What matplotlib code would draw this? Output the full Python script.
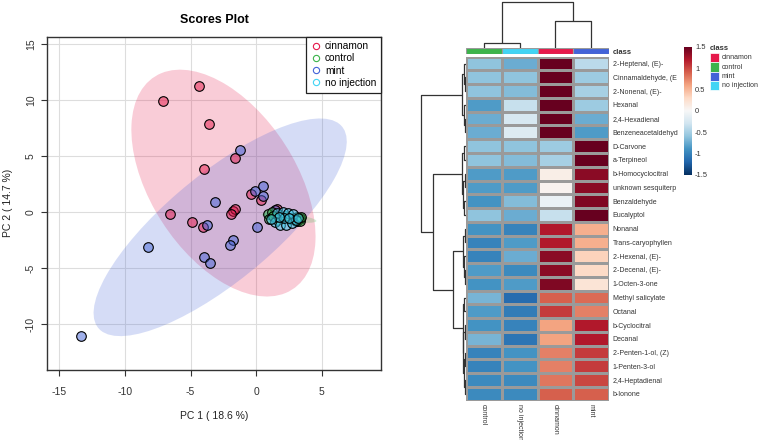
import numpy as np
import matplotlib
matplotlib.use('Agg')
import matplotlib.pyplot as plt
from matplotlib.patches import Ellipse, Rectangle
from matplotlib.lines import Line2D

plt.rcParams['font.family'] = ['Liberation Sans', 'DejaVu Sans']
plt.rcParams['axes.unicode_minus'] = False

# ---------------- scores plot data ----------------
groups = ['cinnamon', 'control', 'mint', 'no injection']
group_colors = ['#E6194B', '#3CB44B', '#4363D8', '#42D4F4']

cinnamon_x = [-4.4, -7.1, -3.6, -1.6, -4.0, -0.4, 0.35, -1.8, -1.65, -1.95, -6.55, -4.9, -4.05, 1.55, 3.1, 3.3]
cinnamon_y = [11.3, 9.95, 7.9, 4.8, 3.85, 1.6, 1.1, 0.1, 0.3, -0.2, -0.15, -0.85, -1.35, 0.25, -0.8, -0.6]

control_x = [0.9, 0.95, 1.2, 1.6, 2.2, 2.6, 2.9, 3.0, 3.1, 3.2, 3.3, 3.35, 3.4, 1.3]
control_y = [-0.2, -0.6, 0.05, -0.7, -0.3, -0.6, -0.5, -0.75, -0.4, -0.65, -0.55, -0.8, -0.45, -0.35]

mint_x = [-1.25, -3.15, -0.1, 0.55, 0.5, -3.75, -1.8, -2.0, -3.95, -3.55, -8.25, -13.35, 0.05, 1.45]
mint_y = [5.55, 0.95, 1.9, 2.35, 1.45, -1.1, -2.5, -2.9, -4.0, -4.55, -3.15, -11.05, -1.3, 0.2]

noinj_x = [1.6, 2.0, 2.4, 2.8, 1.4, 1.8, 2.3, 2.7, 2.1, 1.7, 3.05, 2.5, 3.2, 1.15]
noinj_y = [-0.05, 0.0, -0.1, -0.2, -0.9, -1.15, -1.1, -0.95, -0.55, -0.45, -0.7, -0.5, -0.55, -0.6]

# 95% ellipses: centre, full width/height, angle (degrees)
ell_cx = [-2.5, 2.5, -2.75, 2.2]
ell_cy = [2.6, -0.5, -1.35, -0.45]
ell_w = [21.8, 4.2, 25.9, 3.2]
ell_h = [11.5, 0.7, 8.9, 1.2]
ell_angle = [-64.3, -8, 45.3, -8]

# ---------------- heatmap data ----------------
row_labels = ['2-Heptenal, (E)-', 'Cinnamaldehyde, (E', '2-Nonenal, (E)-', 'Hexanal',
              '2,4-Hexadienal', 'Benzeneacetaldehyd', 'D-Carvone', 'a-Terpineol',
              'b-Homocyclocitral', 'unknown sesquiterp', 'Benzaldehyde', 'Eucalyptol',
              'Nonanal', 'Trans-caryophyllen', '2-Hexenal, (E)-', '2-Decenal, (E)-',
              '1-Octen-3-one', 'Methyl salicylate', 'Octanal', 'b-Cyclocitral', 'Decanal',
              '2-Penten-1-ol, (Z)', '1-Penten-3-ol', '2,4-Heptadienal', 'b-Ionone']
col_labels = ['control', 'no injection', 'cinnamon', 'mint']
col_colors = ['#3CB44B', '#42D4F4', '#E6194B', '#4363D8']

control_vals = [-0.6, -0.6, -0.6, -0.85, -0.75, -0.75, -0.6, -0.6, -0.85, -0.85, -0.9, -0.6,
                -0.9, -1.0, -1.0, -0.85, -0.9, -0.7, -0.85, -0.9, -0.7, -1.0, -1.0, -0.95, -0.95]
noinj_vals = [-0.75, -0.6, -0.65, -0.35, -0.25, -0.2, -0.6, -0.65, -0.85, -0.85, -0.65, -0.75,
              -1.0, -0.85, -0.75, -0.95, -0.85, -1.15, -1.05, -1.0, -1.1, -0.9, -0.9, -0.95, -0.95]
cinnamon_vals = [1.5, 1.5, 1.5, 1.5, 1.5, 1.5, -0.55, -0.5, 0.1, 0.05, -0.1, -0.35,
                 1.2, 1.2, 1.35, 1.35, 1.4, 0.9, 1.05, 0.6, 0.6, 0.75, 0.75, 0.8, 0.9]
mint_vals = [-0.4, -0.55, -0.5, -0.55, -0.75, -0.85, 1.5, 1.5, 1.35, 1.35, 1.4, 1.5,
             0.55, 0.55, 0.35, 0.3, 0.2, 0.85, 0.75, 1.2, 1.2, 1.05, 1.05, 1.0, 0.9]

# dendrogram merges: (left id, right id, height)
row_merges = [(1, 2, 1.0), (0, 25, 1.8), (4, 5, 1.2), (3, 27, 2.2), (26, 28, 4.0),
              (6, 7, 1.5), (8, 9, 0.8), (10, 11, 1.6), (31, 32, 2.4), (30, 33, 4.0),
              (12, 13, 1.2), (15, 16, 1.0), (14, 36, 1.8), (35, 37, 2.6),
              (17, 18, 1.4), (19, 20, 1.2), (21, 22, 0.6), (23, 24, 1.0), (41, 42, 1.8),
              (40, 43, 2.4), (39, 44, 3.2),
              (38, 45, 13.0), (34, 46, 32.4), (29, 47, 45.0)]
col_merges = [(0, 1, 5.0), (2, 3, 26.7), (4, 5, 46.0)]


def dendro_segments(merges, n):
    pos = {i: i + 0.5 for i in range(n)}
    hgt = {i: 0.0 for i in range(n)}
    segs = []
    for k, (a, b, h) in enumerate(merges):
        segs.append(([pos[a], pos[a], pos[b], pos[b]], [hgt[a], h, h, hgt[b]]))
        pos[n + k] = (pos[a] + pos[b]) / 2
        hgt[n + k] = h
    return segs


W, H = 758, 440
fig = plt.figure(figsize=(W / 100, H / 100), dpi=100)


def px_axes(x0, y0, x1, y1):
    return fig.add_axes([x0 / W, 1 - y1 / H, (x1 - x0) / W, (y1 - y0) / H])


# ---------------- scores plot ----------------
ax = px_axes(47, 36.7, 381, 370)
ax.set_xlim(-15.94, 9.5)
ax.set_ylim(-14.1, 15.68)
ax.set_xticks([-15, -10, -5, 0, 5])
ax.set_yticks([-10, -5, 0, 5, 10, 15])
ax.grid(True, color='#dddddd', lw=0.8)
ax.set_axisbelow(True)

for i in [0, 2, 1, 3]:
    ax.add_patch(Ellipse((ell_cx[i], ell_cy[i]), ell_w[i], ell_h[i], angle=ell_angle[i],
                         facecolor=group_colors[i], alpha=0.22, lw=0))

xs = [cinnamon_x, control_x, mint_x, noinj_x]
ys = [cinnamon_y, control_y, mint_y, noinj_y]
for i in [0, 2, 1, 3]:
    fc = matplotlib.colors.to_rgba(group_colors[i], 0.5)
    ax.scatter(xs[i], ys[i], s=48, facecolors=[fc], edgecolors='black', linewidths=0.8, zorder=3)

for s in ax.spines.values():
    s.set_color('#333333')
    s.set_linewidth(1.0)
ax.tick_params(axis='x', length=4, pad=8, labelsize=7.5, colors='#333333')
ax.tick_params(axis='y', length=4, pad=4, labelsize=7.5, colors='#333333')
plt.setp(ax.get_yticklabels(), rotation=90, va='center')
ax.set_xlabel('PC 1 ( 18.6 %)', fontsize=7.5, color='#222222', labelpad=10)
ax.set_ylabel('PC 2 ( 14.7 %)', fontsize=7.5, color='#222222', labelpad=9)
ax.set_title('Scores Plot', fontsize=9, fontweight='bold', pad=10)

handles = [Line2D([], [], marker='o', ls='', markerfacecolor='none', markeredgecolor=c,
                  markersize=4.5, mew=0.8) for c in group_colors]
leg = ax.legend(handles, groups, loc='upper right', borderaxespad=0, fancybox=False,
                edgecolor='#222222', framealpha=1, fontsize=7.3, handletextpad=0.4,
                borderpad=0.45, labelspacing=0.22, handlelength=1.0)
leg.get_frame().set_linewidth(0.9)

# ---------------- heatmap ----------------
vals = np.column_stack([control_vals, noinj_vals, cinnamon_vals, mint_vals])
nrow, ncol = vals.shape
cmap = plt.get_cmap('RdBu_r')

hm = px_axes(465.7, 56.7, 609.3, 400.7)
mesh = hm.pcolormesh(np.arange(ncol + 1), np.arange(nrow + 1), vals, cmap=cmap,
                     vmin=-1.5, vmax=1.5, edgecolors='#9a9a9a', linewidth=0.8)
hm.set_xlim(0, ncol)
hm.set_ylim(nrow, 0)
hm.set_yticks(np.arange(nrow) + 0.5)
hm.set_yticklabels(row_labels, fontsize=5, color='#333333')
hm.yaxis.tick_right()
hm.set_xticks(np.arange(ncol) + 0.5)
hm.set_xticklabels(col_labels, fontsize=5, color='#333333', rotation=-90, va='top')
hm.tick_params(length=0, pad=2.5)
for s in hm.spines.values():
    s.set_visible(False)

# class bar
cb = px_axes(465.7, 47.7, 609.3, 54.3)
for j, c in enumerate(col_colors):
    cb.add_patch(Rectangle((j, 0), 1, 1, facecolor=c, edgecolor='#9a9a9a', lw=0.8))
cb.set_xlim(0, ncol)
cb.set_ylim(0, 1)
cb.set_xticks([])
cb.set_yticks([0.5])
cb.set_yticklabels(['class'], fontsize=5.5, fontweight='bold', color='#333333')
cb.yaxis.tick_right()
cb.tick_params(length=0, pad=2.5)
for s in cb.spines.values():
    s.set_visible(False)

# column dendrogram
cd = px_axes(465.7, 1, 609.3, 47.7)
for sx, sy in dendro_segments(col_merges, ncol):
    cd.plot(sx, sy, color='#333333', lw=0.9, solid_capstyle='butt')
cd.set_xlim(0, ncol)
cd.set_ylim(0, 46.7)
cd.axis('off')

# row dendrogram
rd = px_axes(420, 56.7, 465.7, 400.7)
for sy, sx in dendro_segments(row_merges, nrow):
    rd.plot(sx, sy, color='#333333', lw=0.9, solid_capstyle='butt')
rd.set_xlim(45.7, 0)
rd.set_ylim(nrow, 0)
rd.axis('off')

# colour key
cax = px_axes(684, 46.7, 692.3, 175)
cbar = fig.colorbar(mesh, cax=cax)
cbar.outline.set_visible(False)
ticks = [-1.5, -1, -0.5, 0, 0.5, 1, 1.5]
cbar.set_ticks(ticks)
cbar.set_ticklabels(['-1.5', '-1', '-0.5', '0', '0.5', '1', '1.5'])
cax.tick_params(length=0, pad=2, labelsize=5.4, colors='#333333')

# class legend
ov = fig.add_axes([0, 0, 1, 1])
ov.set_xlim(0, W)
ov.set_ylim(H, 0)
ov.axis('off')
ov.text(710, 49, 'class', fontsize=5.5, fontweight='bold', va='center', ha='left', color='#333333')
for i, (g, c) in enumerate(zip(groups, group_colors)):
    ov.add_patch(Rectangle((710, 53.3 + i * 9.2), 9.3, 9.2, facecolor=c, edgecolor='white', lw=0.5))
    ov.text(721.7, 53.3 + i * 9.2 + 4.6, g, fontsize=5, va='center', ha='left', color='#333333')

fig.savefig('out.png', dpi=100)
